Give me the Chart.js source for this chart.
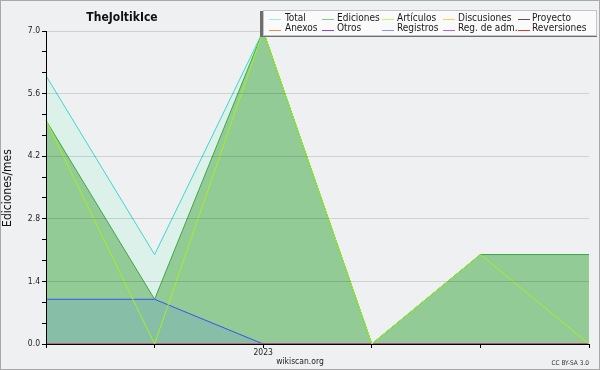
<!DOCTYPE html>
<html>
<head>
<meta charset="utf-8">
<script src="https://cdn.jsdelivr.net/npm/chart.js@4/dist/chart.umd.min.js"></script>
<style>
  body { margin: 0; background: #fff; }
  canvas { display: block; }
</style>
</head>
<body>
<canvas id="chart" width="600" height="370"></canvas>
<script>
'use strict';

// months, only january gets a label
const labels = ['', '', '2023', '', '', ''];

const total = [6, 2, 7, 0, 2, 2];
const ediciones = [5, 1, 7, 0, 2, 2];
const articulos = [5, 0, 7, 0, 2, 0];
const discusiones = [0, 0, 0, 0, 0, 0];
const proyecto = [0, 0, 0, 0, 0, 0];
const anexos = [0, 0, 0, 0, 0, 0];
const otros = [0, 0, 0, 0, 0, 0];
const registros = [1, 1, 0, 0, 0, 0];
const regAdm = [0, 0, 0, 0, 0, 0];
const reversiones = [0, 0, 0, 0, 0, 0];

const yMax = 7;
const yMajor = [0, 1.4, 2.8, 4.2, 5.6, 7.0];
const minorPerMajor = 3;

const names = ['Total', 'Ediciones', 'Artículos', 'Discusiones', 'Proyecto',
               'Anexos', 'Otros', 'Registros', 'Reg. de adm.', 'Reversiones'];
const series = [total, ediciones, articulos, discusiones, proyecto,
                anexos, otros, registros, regAdm, reversiones];
const legendColors = ['#a6e8e0', '#84c886', '#c8f06c', '#f6d04e', '#555555',
                      '#f08a52', '#8446de', '#8494f0', '#c45ae0', '#e03434'];
const lineColors = ['#3fd6cf', '#3ea848', '#a6f01e', '#f6d04e', '#555555',
                    '#f08a52', '#8446de', '#3a52f0', '#c45ae0', '#e03434'];
const fillColors = ['#dbf1ea', '#93cb96', null, null, null,
                    null, null, '#86bea8', null, null];

const FONT = '"DejaVu Sans Condensed", "DejaVu Sans", sans-serif';

let datasets = [];
for (let i = 0; i < series.length; i++) {
    datasets.push({
        label: names[i],
        data: series[i],
        borderColor: lineColors[i],
        backgroundColor: fillColors[i] || 'transparent',
        fill: fillColors[i] ? 'origin' : false,
        borderWidth: 1,
        pointRadius: 0,
        tension: 0,
        order: i === 2 ? -20 : -i // later series on top, articulos line topmost
    });
}

// title, legend box, credits and frame
const overlay = {
    id: 'overlay',
    beforeDraw (chart) {
        const c = chart.ctx;
        c.save();
        c.fillStyle = '#eff0f1';
        c.fillRect(0, 0, chart.width, chart.height);
        c.restore();
    },
    afterDraw (chart) {
        const c = chart.ctx;
        c.save();

        c.fillStyle = '#111';
        c.font = 'bold 12px ' + FONT;
        c.textAlign = 'center';
        c.textBaseline = 'alphabetic';
        c.fillText('TheJoltikIce', 122, 21);

        // y axis title
        c.save();
        c.translate(11, 188);
        c.rotate(-Math.PI / 2);
        c.font = '12px ' + FONT;
        c.fillStyle = '#111';
        c.fillText('Ediciones/mes', 0, 0);
        c.restore();

        // legend
        c.fillStyle = '#6e6e6e';
        c.fillRect(260, 11, 337, 26);
        c.fillStyle = '#fafafa';
        c.fillRect(263, 10, 334, 26);
        c.strokeStyle = '#c4c4c4';
        c.lineWidth = 1;
        c.strokeRect(263.5, 10.5, 333, 25);

        const lineX = [269, 322, 382, 443, 518];
        const textX = [285, 337, 397, 458, 532];
        const rowY = [19, 29.5];
        c.font = '10px ' + FONT;
        c.textAlign = 'left';
        c.textBaseline = 'middle';
        for (let i = 0; i < names.length; i++) {
            const col = i % 5;
            const row = Math.floor(i / 5);
            const y = Math.round(rowY[row]) + 0.5;
            c.strokeStyle = legendColors[i];
            c.beginPath();
            c.moveTo(lineX[col], y);
            c.lineTo(lineX[col] + 12, y);
            c.stroke();
            c.fillStyle = '#1a1a1a';
            c.fillText(names[i], textX[col], rowY[row] - 1);
        }

        // credits
        c.textBaseline = 'alphabetic';
        c.textAlign = 'center';
        c.font = '8.5px ' + FONT;
        c.fillStyle = '#222';
        c.fillText('wikiscan.org', 300, 364);
        c.textAlign = 'right';
        c.font = '6.5px ' + FONT;
        c.fillStyle = '#333';
        c.fillText('CC BY-SA 3.0', 589, 365);

        // frame
        c.strokeStyle = '#a9a9a9';
        c.strokeRect(0.5, 0.5, chart.width - 1, chart.height - 1);
        c.restore();
    }
};

let ctx = document.getElementById('chart').getContext('2d');

new Chart(ctx, {
    type: 'line',
    data: { labels: labels, datasets: datasets },
    options: {
        responsive: false,
        animation: false,
        layout: { padding: { top: 31, right: 11, left: 0, bottom: 0 } },
        plugins: {
            legend: { display: false },
            title: { display: false },
            tooltip: { enabled: false }
        },
        scales: {
            x: {
                grid: { drawOnChartArea: false, tickLength: 4, tickColor: '#000', z: 1 },
                border: { color: '#000', z: 1 },
                ticks: {
                    autoSkip: false, maxRotation: 0, padding: 0,
                    color: '#222', font: { family: FONT, size: 8.5 }
                },
                afterFit: (s) => { s.height = 26; }
            },
            y: {
                min: 0,
                max: yMax,
                ticks: {
                    stepSize: (yMajor[1] - yMajor[0]) / minorPerMajor,
                    autoSkip: false,
                    padding: 2,
                    color: '#222',
                    font: { family: FONT, size: 8.5 },
                    callback: (v, i) => i % minorPerMajor === 0 ? yMajor[i / minorPerMajor].toFixed(1) : ''
                },
                grid: {
                    color: (g) => (g.index % minorPerMajor === 0 && g.index > 0) ? 'rgba(0,0,0,0.13)' : 'rgba(0,0,0,0)',
                    tickColor: '#000',
                    tickLength: 4,
                    z: 1
                },
                border: { color: '#000', z: 1 },
                afterFit: (s) => { s.width = 46; }
            }
        }
    },
    plugins: [overlay]
});
</script>
</body>
</html>
